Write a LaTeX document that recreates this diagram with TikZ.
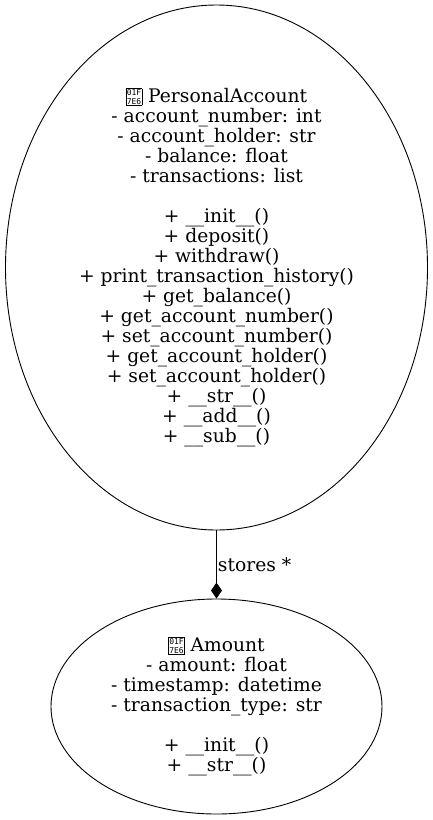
\documentclass[tikz,border=0pt]{standalone}
\usepackage{fontspec}
\setmainfont{DejaVu Serif}
\setmonofont{DejaVu Sans Mono}
\usetikzlibrary{shapes.geometric,arrows.meta}
\newcommand\tofu[2]{\raisebox{-2pt}{\setlength\fboxsep{0.6pt}\setlength\fboxrule{0.4pt}\fbox{\fontsize{8}{7.6}\selectfont\ttfamily\shortstack{#1\\#2}}}}
\tikzset{
  cls/.style={ellipse, draw, line width=0.9pt, inner sep=0pt, align=center,
    font=\fontsize{18.7}{20}\selectfont},
  lbl/.style={font=\fontsize{18.7}{20}\selectfont, inner sep=1pt},
}
\begin{document}
\begin{tikzpicture}[x=1pt,y=-1pt]
\useasboundingbox (0,0) rectangle (433,820);
\node[cls, minimum width=422pt, minimum height=525pt] (acct) at (216.5,267.5) {%
\tofu{01F}{7E6} PersonalAccount\\
- account\_number: int\\
- account\_holder: str\\
- balance: float\\
- transactions: list\\[20pt]
+ \_\_init\_\_()\\
+ deposit()\\
+ withdraw()\\
+ print\_transaction\_history()\\
+ get\_balance()\\
+ get\_account\_number()\\
+ set\_account\_number()\\
+ get\_account\_holder()\\
+ set\_account\_holder()\\
+ \_\_str\_\_()\\
+ \_\_add\_\_()\\
+ \_\_sub\_\_()};
\node[cls, minimum width=331pt, minimum height=215pt] (amt) at (216.5,706.5) {%
\tofu{01F}{7E6} Amount\\
- amount: float\\
- timestamp: datetime\\
- transaction\_type: str\\[20pt]
+ \_\_init\_\_()\\
+ \_\_str\_\_()};
\draw[line width=0.9pt, -{Diamond[length=16pt,width=11pt]}] (acct.south) -- node[lbl, anchor=west, pos=0.5] {stores *} (amt.north);
\end{tikzpicture}
\end{document}
